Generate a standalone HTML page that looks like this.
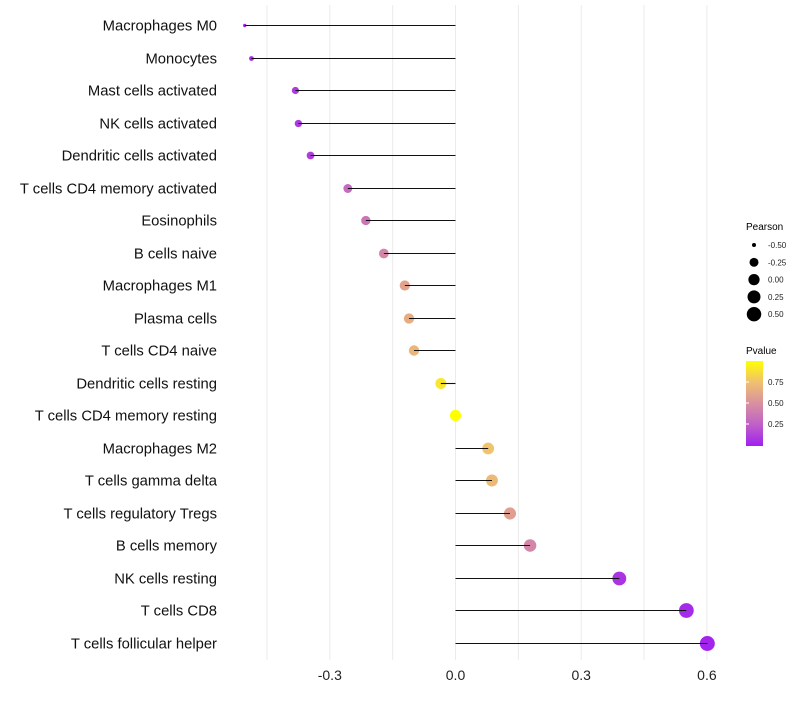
<!DOCTYPE html>
<html><head><meta charset="utf-8"><style>
body{margin:0;background:#fff;font-family:"Liberation Sans",Arial,sans-serif}
svg text{font-family:"Liberation Sans",Arial,sans-serif}
</style></head><body>
<svg id="chart" width="800" height="700" xmlns="http://www.w3.org/2000/svg">
<defs><linearGradient id="pg" x1="0" y1="1" x2="0" y2="0">
<stop offset="0" stop-color="#a020f0"/><stop offset="0.25" stop-color="#c060c8"/><stop offset="0.5" stop-color="#d890a0"/><stop offset="0.75" stop-color="#f0c070"/><stop offset="1" stop-color="#ffff00"/></linearGradient></defs>
<g id="grid"></g><g id="points"></g><g id="marks"></g><g id="ylabels"></g><g id="xlabels"></g>
<g>
<text x="746" y="230" font-size="10" fill="#000">Pearson</text>
<g id="sizeleg"></g></g>
<g>
<text x="746" y="354" font-size="10" fill="#000">Pvalue</text>
<rect x="746" y="361" width="17" height="85" fill="url(#pg)"/>
<g id="colleg"></g></g>
</svg>
<script>
const categories=["Macrophages M0","Monocytes","Mast cells activated","NK cells activated","Dendritic cells activated","T cells CD4 memory activated","Eosinophils","B cells naive","Macrophages M1","Plasma cells","T cells CD4 naive","Dendritic cells resting","T cells CD4 memory resting","Macrophages M2","T cells gamma delta","T cells regulatory  Tregs ","B cells memory","NK cells resting","T cells CD8","T cells follicular helper"];
const pearson=[-0.503,-0.487,-0.382,-0.375,-0.346,-0.257,-0.214,-0.171,-0.121,-0.111,-0.099,-0.035,0.0,0.078,0.087,0.130,0.178,0.391,0.551,0.601];
const pvalue=[0.02,0.05,0.1,0.1,0.12,0.3,0.36,0.45,0.6,0.65,0.7,0.9,1.0,0.76,0.72,0.58,0.45,0.08,0.04,0.02];
const xTicks=[-0.3,0.0,0.3,0.6];
const xTickLabels=["-0.3","0.0","0.3","0.6"];
const sizeLegendVals=[-0.5,-0.25,0,0.25,0.5];
const sizeLegendLabels=["-0.50","-0.25","0.00","0.25","0.50"];
const colorTicks=[0.25,0.5,0.75];
const colorTickLabels=["0.25","0.50","0.75"];
const NS="http://www.w3.org/2000/svg";
const X=v=>455.5+v*419;
const Y=i=>Math.round(25+i*32.5)+0.5;
const pmin=Math.min(...pearson),pmax=Math.max(...pearson);
const R=v=>{const t=Math.max(0,Math.min(1,(v-pmin)/(pmax-pmin)));return (3.4+11.6*Math.sqrt(t))/2;};
const CY=p=>445-p*84;
const stops=[[0,[160,32,240]],[0.25,[192,96,200]],[0.5,[216,144,160]],[0.75,[240,192,112]],[1,[255,255,0]]];
function col(p){for(let k=1;k<stops.length;k++){if(p<=stops[k][0]){const [a,ca]=stops[k-1],[b,cb]=stops[k];const t=(p-a)/(b-a);return "rgb("+ca.map((c,j)=>Math.round(c+(cb[j]-c)*t)).join(",")+")";}}return "rgb(255,255,0)";}
function mk(tag,at,par){const e=document.createElementNS(NS,tag);for(const k in at)e.setAttribute(k,at[k]);document.getElementById(par).appendChild(e);return e;}
[-0.45,-0.3,-0.15,0,0.15,0.3,0.45,0.6].forEach(v=>{const l=mk("line",{x1:X(v),x2:X(v),y1:5,y2:660,stroke:"#ebebeb","stroke-width":1},"grid");

});
xTicks.forEach((v,i)=>{const t=mk("text",{x:X(v),y:680,"font-size":14,"text-anchor":"middle",fill:"#222"},"xlabels");t.textContent=xTickLabels[i];

});
categories.forEach((c,i)=>{const t=mk("text",{x:217,y:Y(i)+5,"font-size":14.8,"text-anchor":"end",fill:"#111"},"ylabels");t.textContent=c;


const d=mk("circle",{cx:X(pearson[i]),cy:Y(i),r:R(pearson[i]),fill:col(pvalue[i])},"points");


const l=mk("line",{x1:X(0),x2:X(pearson[i]),y1:Y(i),y2:Y(i),stroke:"#111","stroke-width":1.1},"marks");

});
sizeLegendVals.forEach((v,i)=>{const y=245+i*17.3;const d=mk("circle",{cx:754,cy:y,r:R(v),fill:"#000"},"sizeleg");


const t=mk("text",{x:768,y:y+3,"font-size":8,fill:"#222"},"sizeleg");t.textContent=sizeLegendLabels[i];

});
colorTicks.forEach((p,i)=>{const t=mk("text",{x:768,y:CY(p)+3,"font-size":8,fill:"#222"},"colleg");t.textContent=colorTickLabels[i];


const l=mk("line",{x1:746,x2:749,y1:CY(p),y2:CY(p),stroke:"#fff"},"colleg");

});
</script>
</body></html>
